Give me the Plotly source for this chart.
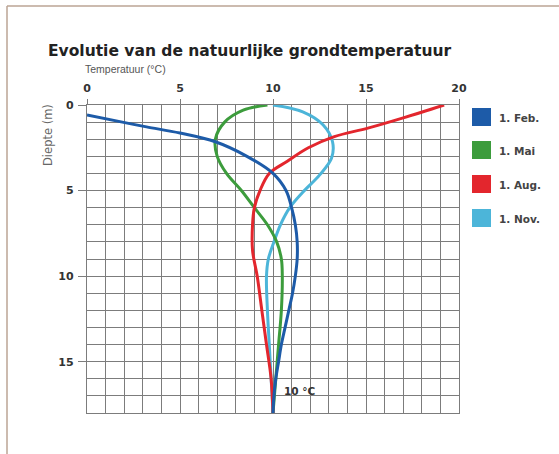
import plotly.graph_objects as go

# ---- data (depth in m, temperature in °C) ----
feb_depth = [0.58, 1.0, 1.28, 1.64, 2.15, 3.0, 4.0, 5.0, 6.0, 7.0, 8.0, 9.0, 10.0, 11.0, 12.0, 13.0, 14.0, 15.0, 16.0, 17.0, 18.0]
feb_temp = [0.0, 1.9, 3.2, 5.0, 6.9, 8.6, 10.0, 10.7, 11.0, 11.2, 11.3, 11.3, 11.2, 11.05, 10.85, 10.65, 10.45, 10.3, 10.15, 10.05, 10.0]

mai_depth = [0.0, 0.3, 1.0, 2.0, 3.0, 4.0, 5.0, 6.0, 7.0, 8.0, 9.0, 10.0, 12.0, 14.0, 16.0, 18.0]
mai_temp = [9.7, 8.4, 7.4, 6.9, 7.0, 7.5, 8.3, 9.0, 9.7, 10.2, 10.45, 10.5, 10.45, 10.3, 10.15, 10.0]

aug_depth = [0.0, 0.75, 1.35, 1.85, 2.5, 3.3, 4.0, 5.0, 6.0, 7.0, 8.5, 10.0, 12.0, 14.0, 16.0, 18.0]
aug_temp = [19.2, 17.0, 15.1, 13.3, 11.9, 10.75, 9.8, 9.3, 9.0, 8.9, 8.9, 9.15, 9.4, 9.65, 9.9, 10.0]

nov_depth = [0.0, 0.4, 1.17, 2.15, 3.1, 4.1, 5.1, 6.0, 7.0, 8.0, 9.0, 10.0, 12.0, 14.0, 16.0, 18.0]
nov_temp = [10.0, 11.6, 12.7, 13.2, 13.15, 12.5, 11.6, 10.9, 10.4, 10.05, 9.75, 9.65, 9.7, 9.8, 9.9, 10.0]

series_names = ["1. Feb.", "1. Mai", "1. Aug.", "1. Nov."]
series_colors = ["#1d5ba8", "#3c9c3c", "#e3262d", "#4cb5d9"]

x_ticks = [0, 5, 10, 15, 20]
y_ticks = [0, 5, 10, 15]

title_text = "Evolutie van de natuurlijke grondtemperatuur"
x_title = "Temperatuur (°C)"
y_title = "Diepte (m)"
note_text = "10 °C"
note_x, note_y = 10.5, 16.7

# ---- layout geometry (pixels) ----
W, H = 559, 454
PL, PR, PT, PB = 87, 459, 105, 413


def px_x(p):
    return (p - PL) / (PR - PL)


def px_y(p):
    return (PB - p) / (PB - PT)


fig = go.Figure()

data = [
    (nov_depth, nov_temp, 3),
    (mai_depth, mai_temp, 1),
    (aug_depth, aug_temp, 2),
    (feb_depth, feb_temp, 0),
]
for d, t, i in data:
    fig.add_trace(go.Scatter(
        x=t, y=d, mode="lines", name=series_names[i],
        line=dict(color=series_colors[i], width=3, shape="spline", smoothing=1.0),
        showlegend=False, hoverinfo="skip",
    ))

grid_col = "#7c7c7c"

fig.update_xaxes(
    range=[0, 20], side="top", tickvals=x_ticks, ticktext=[str(v) for v in x_ticks],
    tickfont=dict(family="DejaVu Sans", size=11, color="#333", weight="bold"),
    ticks="outside", ticklen=5, tickcolor=grid_col, tickwidth=1.3,
    showgrid=True, gridcolor=grid_col, gridwidth=1.3,
    minor=dict(dtick=1, tick0=0, showgrid=True, gridcolor=grid_col, gridwidth=1.3, ticks=""),
    showline=True, linecolor=grid_col, linewidth=1.3, mirror=True,
    zeroline=False, ticklabelstandoff=2,
)
fig.update_yaxes(
    range=[18, 0], tickvals=y_ticks, ticktext=[str(v) for v in y_ticks],
    tickfont=dict(family="DejaVu Sans", size=11, color="#333", weight="bold"),
    ticks="outside", ticklen=8, tickcolor=grid_col, tickwidth=1.3,
    showgrid=True, gridcolor=grid_col, gridwidth=1.3,
    minor=dict(dtick=1, tick0=0, showgrid=True, gridcolor=grid_col, gridwidth=1.3, ticks=""),
    showline=True, linecolor=grid_col, linewidth=1.3, mirror=True,
    zeroline=False, ticklabelstandoff=2,
)

annotations = [
    dict(text=title_text, x=px_x(46), y=px_y(51), xref="paper", yref="paper",
         xanchor="left", yanchor="middle", showarrow=False,
         font=dict(family="DejaVu Sans", size=15.5, color="#222", weight="bold")),
    dict(text=x_title, x=px_x(83), y=px_y(69), xref="paper", yref="paper",
         xanchor="left", yanchor="middle", showarrow=False,
         font=dict(family="Liberation Sans", size=10.5, color="#555")),
    dict(text=y_title, x=px_x(48), y=px_y(135), xref="paper", yref="paper",
         xanchor="center", yanchor="middle", showarrow=False, textangle=-90,
         font=dict(family="DejaVu Sans", size=11.5, color="#666")),
    dict(text=note_text, x=note_x, y=note_y, xref="x", yref="y",
         xanchor="left", yanchor="middle", showarrow=False,
         font=dict(family="DejaVu Sans", size=10.5, color="#333", weight="bold")),
]

shapes = []
leg_y = [117, 150, 184, 218]
for i, name in enumerate(series_names):
    cy = leg_y[i]
    shapes.append(dict(type="rect", xref="paper", yref="paper",
                       x0=px_x(472), x1=px_x(491), y0=px_y(cy + 9), y1=px_y(cy - 9),
                       fillcolor=series_colors[i], line=dict(width=0)))
    annotations.append(dict(text=name, x=px_x(497), y=px_y(cy + 1), xref="paper", yref="paper",
                            xanchor="left", yanchor="middle", showarrow=False,
                            font=dict(family="DejaVu Sans", size=10.5, color="#444", weight="bold")))

# outer frame (top and left edges)
frame_col = "#bba594"
shapes.append(dict(type="line", xref="paper", yref="paper",
                   x0=px_x(7), x1=px_x(W + 5), y0=px_y(6), y1=px_y(6),
                   line=dict(color=frame_col, width=1.5)))
shapes.append(dict(type="line", xref="paper", yref="paper",
                   x0=px_x(7), x1=px_x(7), y0=px_y(6), y1=px_y(H + 5),
                   line=dict(color=frame_col, width=1.5)))

fig.update_layout(
    width=W, height=H,
    margin=dict(l=PL, r=W - PR, t=PT, b=H - PB, pad=0),
    paper_bgcolor="white", plot_bgcolor="white",
    font=dict(family="DejaVu Sans"),
    annotations=annotations, shapes=shapes,
    showlegend=False,
)

fig.write_html("out.html", config={"displayModeBar": False},
               post_script="document.body.style.margin='0px';")
